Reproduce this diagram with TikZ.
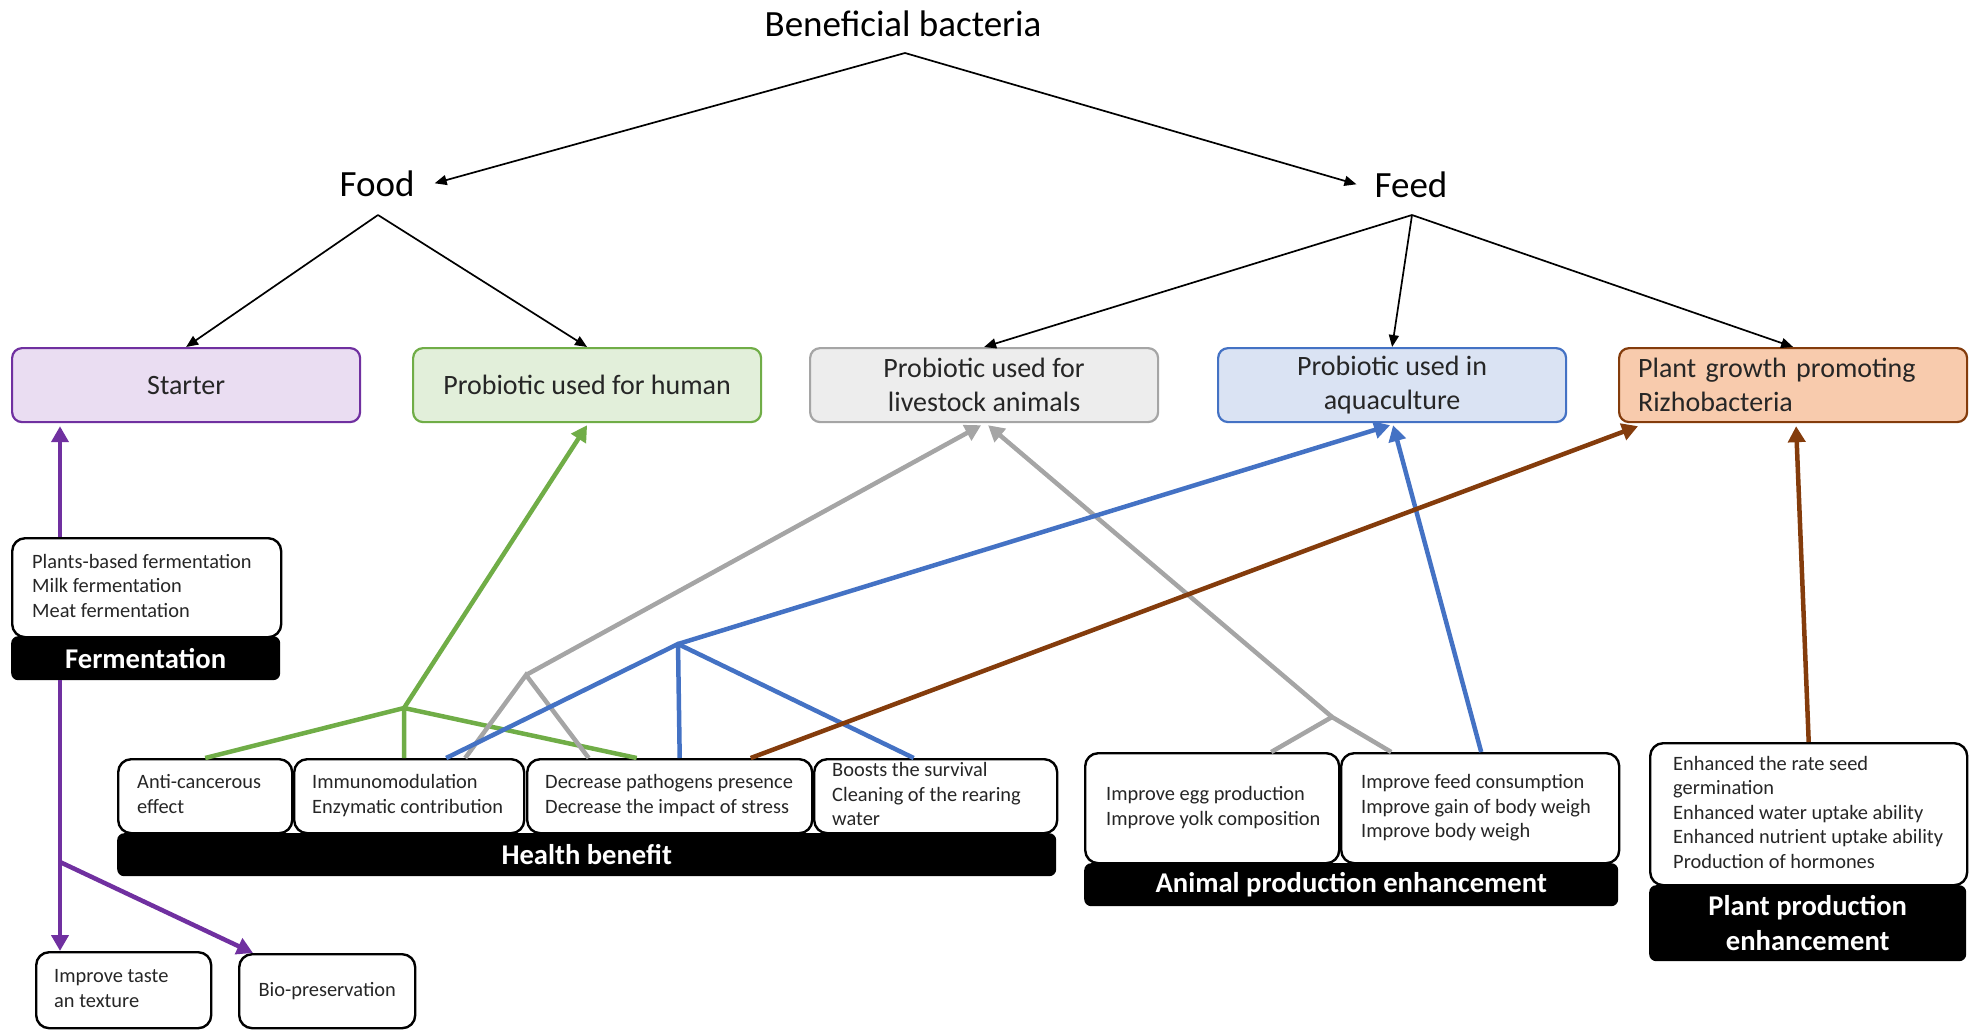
\documentclass[tikz,border=0pt]{standalone}
\usepackage{fontspec}
\setmainfont{Carlito}
\usetikzlibrary{arrows.meta,calc}
\definecolor{cpurp}{HTML}{7030A0}
\definecolor{fpurp}{HTML}{EADDF2}
\definecolor{cgreen}{HTML}{70AD47}
\definecolor{fgreen}{HTML}{E2EFDA}
\definecolor{cgray}{HTML}{A5A5A5}
\definecolor{fgray}{HTML}{EDEDED}
\definecolor{cblue}{HTML}{4472C4}
\definecolor{fblue}{HTML}{DAE3F3}
\definecolor{cbrown}{HTML}{843C0C}
\definecolor{fbrown}{HTML}{F8CBAD}
\definecolor{txt}{HTML}{262626}
\newcommand{\lb}[2]{\makebox[#1pt][l]{\begin{tabular}{@{}l@{}}#2\end{tabular}}}
\tikzset{
  title/.style={font=\fontsize{37}{44}\selectfont, inner sep=0pt},
  cbox/.style={rounded corners=10pt, line width=2.2pt, minimum height=74pt, minimum width=348pt,
    anchor=north west, inner sep=0pt, font=\fontsize{28}{34}\selectfont, align=center, text=txt},
  wbox/.style={draw=black, fill=white, rounded corners=13pt, line width=2.4pt, anchor=north west,
    inner ysep=0pt, font=\fontsize{20.4}{24.5}\selectfont, text=txt},
  bbar/.style={fill=black, rounded corners=7pt, anchor=north west, inner sep=0pt, text=white,
    font=\fontsize{28.6}{35}\bfseries\selectfont, align=center},
  blk/.style={line width=1.7pt, -{Triangle[length=12pt,width=10pt]}},
  carr/.style={line width=4.5pt, -{Triangle[length=16pt,width=17pt]}},
  cln/.style={line width=4.5pt},
}
\begin{document}
\begin{tikzpicture}[x=1pt,y=-1pt]
\useasboundingbox (0,0) rectangle (1977,1033);

% titles
\node[title, anchor=base] (bb) at (903,37) {Beneficial bacteria};
\node[title, anchor=base] (food) at (377,196) {Food};
\node[title, anchor=base] (feed) at (1411,197) {Feed};

% coloured boxes
\node[cbox, draw=cpurp, fill=fpurp] (starter) at (11,347) {Starter};
\node[cbox, draw=cgreen, fill=fgreen] (human) at (412,347) {Probiotic used for human};
\node[cbox, draw=cgray, fill=fgray] (live) at (809,347) {Probiotic used for\\livestock animals};
\node[cbox, draw=cblue, fill=fblue] (aqua) at (1217,347) {Probiotic used in\\aquaculture};
\node[cbox, draw=cbrown, fill=fbrown, align=left, inner xsep=19pt, text width=310pt] (pgpr) at (1618,347) {Plant growth promoting\\Rizhobacteria};

% white boxes
\node[wbox, minimum width=269pt, minimum height=99pt, inner xsep=20pt] (ferm) at (11,537)
  {\lb{229}{Plants-based fermentation\\Milk fermentation\\Meat fermentation}};
\node[wbox, minimum width=175pt, minimum height=76pt, inner xsep=18pt] (taste) at (35,951)
  {\lb{139}{Improve taste\\an texture}};
\node[wbox, minimum width=176pt, minimum height=74pt] (bio) at (238,953) {Bio-preservation};

\node[wbox, minimum width=174pt, minimum height=74pt, inner xsep=19pt] (anti) at (117,758)
  {\lb{136}{Anti-cancerous\\effect}};
\node[wbox, minimum width=230pt, minimum height=74pt, inner xsep=18pt] (immu) at (293,758)
  {\lb{194}{Immunomodulation\\Enzymatic contribution}};
\node[wbox, minimum width=285pt, minimum height=74pt, inner xsep=18pt] (dec) at (526,758)
  {\lb{249}{Decrease pathogens presence\\Decrease the impact of stress}};
\node[wbox, minimum width=243pt, minimum height=74pt, inner xsep=18pt] (boost) at (813,758)
  {\lb{207}{Boosts the survival\\Cleaning of the rearing\\water}};

\node[wbox, minimum width=254pt, minimum height=110pt, inner xsep=21pt] (egg) at (1084,752)
  {\lb{212}{Improve egg production\\Improve yolk composition}};
\node[wbox, minimum width=278pt, minimum height=110pt, inner xsep=20pt] (feedc) at (1340,752)
  {\lb{238}{Improve feed consumption\\Improve gain of body weigh\\Improve body weigh}};

\node[wbox, minimum width=317pt, minimum height=142pt, inner xsep=23pt] (plant) at (1649,742)
  {\lb{271}{Enhanced the rate seed\\germination\\Enhanced water uptake ability\\Enhanced nutrient uptake ability\\Production of hormones}};

% black bars
\node[bbar, minimum width=269pt, minimum height=44pt] (fbar) at (11,636) {Fermentation};
\node[bbar, minimum width=939pt, minimum height=43pt] (hbar) at (117,833) {Health benefit};
\node[bbar, minimum width=534pt, minimum height=43pt] (abar) at (1084,863) {Animal production enhancement};
\node[bbar, minimum width=317pt, minimum height=76pt] (pbar) at (1649,885) {Plant production\\enhancement};

% junction coordinates
\coordinate (bbT) at (905,53);
\coordinate (foodB) at (378,215);
\coordinate (feedB) at (1412,215);
\coordinate (pJ) at (60,862);
\coordinate (gJ) at (404,708);
\coordinate (grL) at (526,675);
\coordinate (grR) at (1332,717);
\coordinate (bJ) at (678,644);

% black arrows
\draw[blk] (bbT) -- ($(food.east)+(20,0)$);
\draw[blk] (bbT) -- ($(feed.west)+(-18,0)$);
\draw[blk] (foodB) -- (starter.north);
\draw[blk] (foodB) -- (human.north);
\draw[blk] (feedB) -- (live.north);
\draw[blk] (feedB) -- (aqua.north);
\draw[blk] (feedB) -- (pgpr.north);

% purple
\draw[carr, cpurp] ($(ferm.north west)+(49,0)$) -- ($(starter.south west)+(49,3)$);
\draw[carr, cpurp] ($(fbar.south west)+(49,0)$) -- ($(taste.north west)+(25,0)$);
\draw[carr, cpurp] (pJ) -- ($(bio.north west)+(15,0)$);

% green
\draw[cln, cgreen] (anti.north) -- (gJ) -- ($(dec.north)+(-33,0)$);
\draw[cln, cgreen] ($(immu.north)+(-5,0)$) -- (gJ);
\draw[carr, cgreen] (gJ) -- ($(human.south)+(0,2)$);

% gray
\draw[cln, cgray] ($(immu.north)+(56,0)$) -- (grL) -- ($(dec.north)+(-81,0)$);
\draw[carr, cgray] (grL) -- ($(live.south)+(-3,2)$);
\draw[cln, cgray] ($(egg.north)+(59,0)$) -- (grR) -- ($(feedc.north)+(-89,0)$);
\draw[carr, cgray] (grR) -- ($(live.south)+(4,2)$);

% blue
\draw[cln, cblue] ($(immu.north)+(37,0)$) -- (bJ) -- ($(boost.north)+(-22,0)$);
\draw[cln, cblue] ($(dec.north)+(10,0)$) -- (bJ);
\draw[carr, cblue] (bJ) -- ($(aqua.south)+(-2,2)$);
\draw[carr, cblue] ($(feedc.north)+(1,0)$) -- ($(aqua.south)+(1,2)$);

% brown
\draw[carr, cbrown] ($(dec.north)+(81,0)$) -- ($(pgpr.south west)+(20,3)$);
\draw[carr, cbrown] (plant.north) -- ($(pgpr.south)+(3,3)$);
\end{tikzpicture}
\end{document}
